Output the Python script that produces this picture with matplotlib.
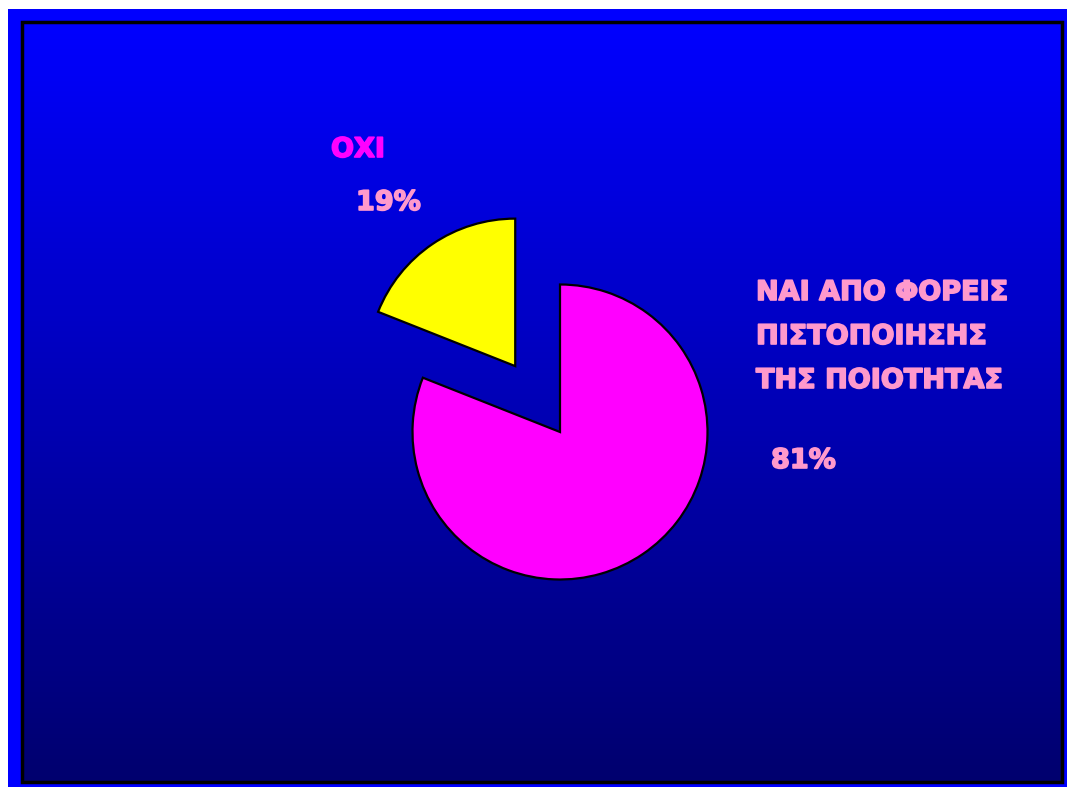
import matplotlib
matplotlib.use("Agg")
import matplotlib.pyplot as plt
import matplotlib.patheffects as pe
import numpy as np
from matplotlib.patches import Rectangle

# data
labels = ["ΝΑΙ ΑΠΟ ΦΟΡΕΙΣ\nΠΙΣΤΟΠΟΙΗΣΗΣ\nΤΗΣ ΠΟΙΟΤΗΤΑΣ", "ΟΧΙ"]
values = [81, 19]
colors = ["#FF00FF", "#FFFF00"]
explode = [0, 0.54]  # fraction of radius

W, H = 1067, 787
R = 147.5
fig = plt.figure(figsize=(W / 100, H / 100), dpi=100)
fig.patch.set_facecolor("white")
ax = fig.add_axes([0, 0, 1, 1])

# outer blue frame
ax.add_patch(Rectangle((8, 0), W - 8, H - 9, facecolor="#0000FF", edgecolor="none", zorder=0))

# gradient panel
grad = np.linspace(0, 1, 256).reshape(-1, 1)
top = np.array([0, 0, 255]) / 255
bot = np.array([0, 0, 110]) / 255
img = top[None, None, :] * (1 - grad[:, :, None]) + bot[None, None, :] * grad[:, :, None]
ax.imshow(img, extent=(22, 1062, 787 - 782, 787 - 22), aspect="auto", zorder=1)
ax.add_patch(Rectangle((22, 787 - 782), 1040, 760, facecolor="none", edgecolor="black", linewidth=2.5, zorder=2))

# matplotlib adds explode in data units, so scale by the radius
wedges, _ = ax.pie(values, colors=colors, explode=[e * R for e in explode], startangle=90, counterclock=False,
                   center=(560, 787 - 432), radius=R, frame=True,
                   wedgeprops=dict(edgecolor="black", linewidth=1.6))
for w in wedges:
    w.set_zorder(3)
ax.set_xlim(0, W)
ax.set_ylim(0, H)
ax.set_aspect("auto")
ax.axis("off")

pink = "#FF99CC"


def label(x, y, s, color, **kw):
    # thin stroke in the same colour to get a heavier, Arial-Black-like look
    ax.text(x, 787 - y, s, color=color, ha="left", va="center", zorder=4,
            family=["DejaVu Sans"], fontweight="bold", fontsize=19.5,
            path_effects=[pe.withStroke(linewidth=1.2, foreground=color)], **kw)


label(756, 337, labels[0], pink, linespacing=1.9)
label(771, 461, f"{values[0]}%", pink)
label(331, 150, labels[1], "#FF00FF")
label(356, 203, f"{values[1]}%", pink)

fig.savefig("out.png", dpi=100, facecolor=fig.get_facecolor())
